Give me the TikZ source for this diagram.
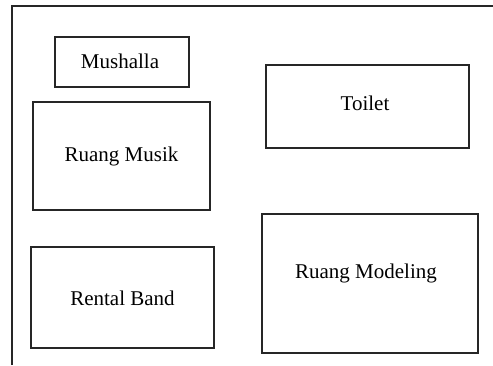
\documentclass[tikz,border=0pt]{standalone}
\usepackage{fontspec}
\setmainfont{Liberation Serif}
\tikzset{room/.style={draw=black!85,line width=0.6pt},
  roomlabel/.style={font=\fontsize{10.5}{12}\selectfont,inner sep=0pt}}
\begin{document}
\begin{tikzpicture}[x=0.5pt,y=-0.5pt]
    \useasboundingbox (0,0) rectangle (493,365);
    % outer wall
    \draw [black!85,line width=0.6pt] (12,365) -- (12,6) -- (493,6);
    % rooms
    \node [room,minimum width=67pt,minimum height=25pt] (mushalla) at (122,62) {};
    \node [room,minimum width=88.5pt,minimum height=54pt] (musik) at (121.5,156) {};
    \node [room,minimum width=91.5pt,minimum height=50.5pt] (band) at (122.5,297.5) {};
    \node [room,minimum width=101.5pt,minimum height=41.5pt] (toilet) at (367.5,106.5) {};
    \node [room,minimum width=108pt,minimum height=69.5pt] (modeling) at (370,283.5) {};
    % labels
    \node [roomlabel] (t1) at (120,61) {Mushalla};
    \node [roomlabel] (t2) at (121.5,156) {Ruang Musik};
    \node [roomlabel] (t3) at (122.5,298) {Rental Band};
    \node [roomlabel] (t4) at (365,103) {Toilet};
    \node [roomlabel] (t5) at (366,273) {Ruang Modeling};
\end{tikzpicture}
\end{document}
